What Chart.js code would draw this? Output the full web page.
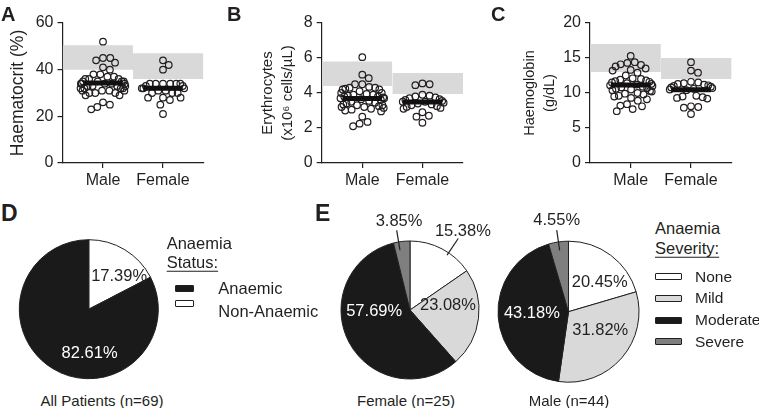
<!DOCTYPE html>
<html>
<head>
<meta charset="utf-8">
<script src="https://cdn.jsdelivr.net/npm/chart.js@4.4.1/dist/chart.umd.min.js"></script>
<style>
  body { margin: 0; background: #fff; }
  #fig { position: relative; width: 759px; height: 408px; overflow: hidden;
         font-family: "Liberation Sans", Arial, Helvetica, sans-serif; color: #231f20; }
  canvas { position: absolute; }
  .t { position: absolute; white-space: nowrap; line-height: 1; transform: translateY(-50%); }
  .mid { transform: translate(-50%, -50%); }
  .letter { font-weight: bold; }
  .box { position: absolute; border: 1px solid #231f20; border-radius: 1px; box-sizing: border-box; }
</style>
</head>
<body>
<div id="fig">
  <canvas id="hct" width="215" height="195" style="left:0;top:0"></canvas>
  <canvas id="rbc" width="230" height="195" style="left:245px;top:0"></canvas>
  <canvas id="hb" width="240" height="195" style="left:505px;top:0"></canvas>
  <canvas id="pieAll" width="160" height="160" style="left:10px;top:230px"></canvas>
  <canvas id="pieFemale" width="170" height="190" style="left:330px;top:200px"></canvas>
  <canvas id="pieMale" width="150" height="190" style="left:495px;top:200px"></canvas>

  <div class="t letter" style="left:1px;top:14px;font-size:20px">A</div>
  <div class="t letter" style="left:227px;top:14px;font-size:20px">B</div>
  <div class="t letter" style="left:491px;top:14px;font-size:20px">C</div>
  <div class="t letter" style="left:1px;top:213px;font-size:23px">D</div>
  <div class="t letter" style="left:315px;top:213px;font-size:23px">E</div>

  <div class="t mid" style="left:102px;top:400px;font-size:15px">All Patients (n=69)</div>
  <div class="t mid" style="left:406px;top:400px;font-size:15px">Female (n=25)</div>
  <div class="t mid" style="left:569px;top:400px;font-size:15px">Male (n=44)</div>

  <div id="legendAll"></div>
  <div id="legendSeverity"></div>
</div>

<script>
// ---- data ----
const groups = ["Male", "Female"];

const hctMale = [52, 45, 45, 44, 43, 41, 40, 38, 38, 37, 37, 36, 36, 36, 35, 35, 35, 35,
  34, 34, 34, 34, 34, 33, 33, 33, 33, 32, 32, 32, 32, 31, 31, 31, 31, 30, 30, 30, 29, 29,
  26, 25, 24, 23];
const hctFemale = [44, 42, 40, 34, 34, 34, 34, 34, 34, 33, 33, 32, 32, 32, 31, 31, 30, 30,
  30, 28, 28, 28, 27, 25, 21];
const hctNormal = [[40, 50.5], [36, 47]];
const hctTicks = [0, 20, 40, 60];

const rbcMale = [6.05, 5.05, 4.85, 4.5, 4.5, 4.35, 4.3, 4.3, 4.25, 4.2, 4.2, 4.1, 4.0, 4.0,
  3.95, 3.9, 3.9, 3.85, 3.8, 3.8, 3.75, 3.7, 3.7, 3.65, 3.6, 3.55, 3.5, 3.45, 3.4, 3.35,
  3.3, 3.3, 3.25, 3.2, 3.2, 3.15, 3.1, 3.05, 3.0, 2.95, 2.65, 2.35, 2.25, 2.1];
const rbcFemale = [4.55, 4.5, 4.45, 3.9, 3.85, 3.8, 3.75, 3.7, 3.65, 3.6, 3.55, 3.5, 3.5,
  3.45, 3.4, 3.35, 3.3, 3.25, 3.2, 3.15, 3.1, 2.9, 2.7, 2.65, 2.3];
const rbcNormal = [[4.4, 5.8], [3.95, 5.15]];
const rbcTicks = [0, 2, 4, 6, 8];

const hbMale = [15.3, 14.4, 14.3, 14.1, 14.0, 13.8, 13.5, 13.3, 13.2, 12.9, 12.5, 12.1,
  12.0, 11.9, 11.8, 11.7, 11.6, 11.5, 11.4, 11.3, 11.2, 11.1, 11.0, 10.9, 10.8, 10.7, 10.6,
  10.5, 10.4, 10.3, 10.2, 10.0, 9.9, 9.8, 9.6, 9.5, 9.3, 9.1, 8.9, 8.4, 8.2, 8.1, 7.7, 7.4];
const hbFemale = [14.4, 13.2, 12.9, 11.6, 11.5, 11.4, 11.3, 11.2, 11.1, 11.0, 10.9, 10.8,
  10.7, 10.6, 10.5, 10.4, 9.6, 9.5, 9.4, 9.3, 9.2, 8.1, 8.0, 7.9, 7.0];
const hbNormal = [[13, 17], [12, 15]];
const hbTicks = [0, 5, 10, 15, 20];

const anaemiaStatus = ["Anaemic", "Non-Anaemic"];
const allPatientsPct = [82.61, 17.39];

const severityLevels = ["None", "Mild", "Moderate", "Severe"];
const femaleSeverityPct = [15.38, 23.08, 57.69, 3.85];
const maleSeverityPct = [20.45, 31.82, 43.18, 4.55];

// ---- style ----
const INK = "#231f20";
const FONT = "'Liberation Sans', Arial, Helvetica, sans-serif";
const statusColors = { "Anaemic": "#1a1a1a", "Non-Anaemic": "#ffffff" };
const severityColors = { None: "#ffffff", Mild: "#d9d9d9", Moderate: "#1a1a1a", Severe: "#7f7f7f" };
const X_MIN = 0.325, X_MAX = 2.675, PX_PER_X = 60, PLOT_H = 140;

// beeswarm from the top down, then squeeze wide rows so the column stays ~±22px
function swarm(values, centre, pxPerY) {
  const d = 7.5, cap = 23;
  const placed = [];
  values.slice().sort((a, b) => b - a).forEach(v => {
    const y = v * pxPerY;
    const near = placed.filter(p => Math.abs(p.y - y) < d);
    const cands = [0];
    near.forEach(p => {
      const dx = Math.sqrt(d * d - (p.y - y) ** 2);
      cands.push(p.x + dx, p.x - dx);
    });
    cands.sort((a, b) => Math.abs(a) - Math.abs(b) || b - a);
    const x = cands.find(c => near.every(p => (p.x - c) ** 2 + (p.y - y) ** 2 >= d * d - 1e-6));
    placed.push({ x, y, v });
  });
  return placed.map(p => ({ x: centre + cap * Math.tanh(p.x / cap) / PX_PER_X, y: p.v }));
}

const mean = arr => arr.reduce((s, v) => s + v, 0) / arr.length;

function scatterPanel(id, cfg) {
  const yMax = cfg.ticks[cfg.ticks.length - 1];
  const pxPerY = PLOT_H / yMax;
  const datasets = [];
  groups.forEach((g, i) => {
    const c = i + 1;
    const lo = i === 0 ? X_MIN : 1.5;
    const hi = i === 0 ? 1.5 : X_MAX;
    datasets.push({
      type: "line",
      data: [{ x: lo, y: cfg.normal[i][1] }, { x: hi, y: cfg.normal[i][1] }],
      fill: { value: cfg.normal[i][0] },
      backgroundColor: "#d9d9d9",
      borderWidth: 0,
      pointRadius: 0,
      order: 3,
    });
    datasets.push({
      data: swarm(cfg.values[i], c, pxPerY),
      pointRadius: 3.3,
      pointBorderWidth: 1.2,
      pointBorderColor: INK,
      pointBackgroundColor: "rgba(255,255,255,0)",
      order: 2,
    });
    const m = mean(cfg.values[i]);
    datasets.push({
      type: "line",
      data: [{ x: c - 0.33, y: m }, { x: c + 0.33, y: m }],
      borderColor: "#111",
      borderWidth: 5,
      borderCapStyle: "butt",
      pointRadius: 0,
      fill: false,
      order: 1,
    });
  });

  const axisFont = { family: FONT, size: 16 };
  return new Chart(document.getElementById(id), {
    type: "scatter",
    data: { datasets },
    options: {
      responsive: false,
      animation: false,
      layout: { padding: { left: 0, top: 23, right: cfg.padRight, bottom: 0 } },
      plugins: { legend: { display: false }, tooltip: { enabled: false } },
      scales: {
        x: {
          type: "linear",
          min: X_MIN,
          max: X_MAX,
          afterBuildTicks: s => { s.ticks = groups.map((g, i) => ({ value: i + 1 })); },
          afterFit: s => { s.height = 32; },
          ticks: { callback: v => groups[v - 1], color: INK, font: axisFont, padding: 3, maxRotation: 0 },
          grid: { drawOnChartArea: false, tickLength: 5, color: INK, lineWidth: 1.2 },
          border: { color: INK, width: 1.2 },
        },
        y: {
          min: 0,
          max: yMax,
          afterBuildTicks: s => { s.ticks = cfg.ticks.map(v => ({ value: v })); },
          afterFit: s => { s.width = cfg.yWidth; },
          ticks: { color: INK, font: axisFont, padding: 4 },
          grid: { drawOnChartArea: false, tickLength: 5, color: INK, lineWidth: 1.2 },
          border: { color: INK, width: 1.2 },
          title: {
            display: true,
            text: cfg.title,
            color: INK,
            font: { family: FONT, size: cfg.titleSize, lineHeight: cfg.titleLine },
            padding: { top: cfg.titlePad, bottom: 0 },
          },
        },
      },
    },
  });
}

scatterPanel("hct", {
  values: [hctMale, hctFemale], normal: hctNormal, ticks: hctTicks,
  title: "Haematocrit (%)", titleSize: 17.5, titleLine: 1.2, titlePad: 7.5,
  yWidth: 62.5, padRight: 11.5,
});
scatterPanel("rbc", {
  values: [rbcMale, rbcFemale], normal: rbcNormal, ticks: rbcTicks,
  title: ["Erythrocytes", "(x10\u2076 cells/\u00b5L)"], titleSize: 15, titleLine: 20 / 15, titlePad: 13.3,
  yWidth: 76.7, padRight: 12,
});
scatterPanel("hb", {
  values: [hbMale, hbFemale], normal: hbNormal, ticks: hbTicks,
  title: ["Haemoglobin", "(g/dL)"], titleSize: 14.5, titleLine: 20 / 14.5, titlePad: 15,
  yWidth: 85, padRight: 13.3,
});

// ---- pies ----
// label anchors: [angle clockwise from 12 o'clock, fraction of radius], optional leader line
const pieLabelPlacement = {
  all: {
    "Non-Anaemic": { at: [43, 0.64] },
    "Anaemic": { at: [179, 0.64] },
  },
  female: {
    None: { at: [34, 1.37], leader: [34, 0.96, 1.25] },
    Mild: { at: [82.5, 0.555] },
    Moderate: { at: [267, 0.52] },
    Severe: { at: [-7, 1.3], leader: [-9.5, 0.88, 1.17] },
  },
  male: {
    None: { at: [46.5, 0.61] },
    Mild: { at: [120, 0.52] },
    Moderate: { at: [267.5, 0.52] },
    Severe: { at: [-7.4, 1.3], leader: [-8.2, 0.88, 1.17] },
  },
};

const pieLabels = {
  id: "pieLabels",
  afterDatasetsDraw(chart, args, opts) {
    const ctx = chart.ctx;
    const ds = chart.data.datasets[0];
    chart.getDatasetMeta(0).data.forEach((arc, i) => {
      const name = chart.data.labels[i];
      const p = opts.place[name];
      const r = arc.outerRadius;
      const pt = (deg, f) => {
        const a = deg * Math.PI / 180;
        return [arc.x + Math.sin(a) * r * f, arc.y - Math.cos(a) * r * f];
      };
      ctx.save();
      if (p.leader) {
        const [a, f1, f2] = p.leader;
        const s = pt(a, f1), e = pt(a, f2);
        ctx.strokeStyle = INK;
        ctx.lineWidth = 1.2;
        ctx.beginPath();
        ctx.moveTo(s[0], s[1]);
        ctx.lineTo(e[0], e[1]);
        ctx.stroke();
      }
      const [x, y] = pt(p.at[0], p.at[1]);
      ctx.font = "16.5px " + FONT;
      ctx.textAlign = "center";
      ctx.textBaseline = "middle";
      const dark = ds.backgroundColor[i] === "#1a1a1a" && !p.leader;
      ctx.fillStyle = dark ? "#ffffff" : INK;
      ctx.fillText(ds.data[i].toFixed(2) + "%", x, y);
      ctx.restore();
    });
  },
};

function piePanel(id, labels, values, colors, place, pad) {
  return new Chart(document.getElementById(id), {
    type: "pie",
    data: {
      labels,
      datasets: [{
        data: values,
        backgroundColor: labels.map(l => colors[l]),
        borderColor: INK,
        borderWidth: 1,
      }],
    },
    options: {
      responsive: false,
      animation: false,
      layout: { padding: pad },
      plugins: { legend: { display: false }, tooltip: { enabled: false }, pieLabels: { place } },
    },
    plugins: [pieLabels],
  });
}

// the reference draws the non-anaemic slice first, clockwise from 12 o'clock
piePanel("pieAll", anaemiaStatus.slice().reverse(), allPatientsPct.slice().reverse(),
  statusColors, pieLabelPlacement.all, { left: 8.8, top: 9.2, right: 11.2, bottom: 10.8 });
piePanel("pieFemale", severityLevels, femaleSeverityPct, severityColors,
  pieLabelPlacement.female, { left: 10.5, top: 40.5, right: 20.5, bottom: 10.5 });
piePanel("pieMale", severityLevels, maleSeverityPct, severityColors,
  pieLabelPlacement.male, { left: 2.5, top: 40.7, right: 5.5, bottom: 7.3 });

// ---- legends (html) ----
function legend(el, titleLines, names, colors, lay) {
  let html = "";
  titleLines.forEach((line, i) => {
    const u = i === titleLines.length - 1 ? "text-decoration:underline;text-underline-offset:3px;" : "";
    html += `<div class="t" style="left:${lay.x}px;top:${lay.titleY + i * lay.titleGap}px;font-size:${lay.titleSize}px;${u}">${line}</div>`;
  });
  names.forEach((n, i) => {
    const y = lay.itemY + i * lay.itemGap;
    const by = y + (lay.boxShift ? lay.boxShift[i] : 0);
    html += `<div class="box" style="left:${lay.boxX}px;top:${by - lay.boxH / 2}px;width:${lay.boxW}px;height:${lay.boxH}px;background:${colors[n]}"></div>`;
    html += `<div class="t" style="left:${lay.textX}px;top:${y}px;font-size:${lay.itemSize}px">${n}</div>`;
  });
  document.getElementById(el).innerHTML = html;
}

legend("legendAll", ["Anaemia", "Status:"], anaemiaStatus, statusColors, {
  x: 166.7, titleY: 243.3, titleGap: 18.4, titleSize: 16.5,
  boxX: 175, boxW: 19, boxH: 7, textX: 218.3, itemY: 288.3, itemGap: 22.5, itemSize: 16.5,
  boxShift: [0, -7],
});
legend("legendSeverity", ["Anaemia", "Severity:"], severityLevels, severityColors, {
  x: 655, titleY: 228.3, titleGap: 20, titleSize: 16.5,
  boxX: 655, boxW: 27, boxH: 7, textX: 695, itemY: 276.7, itemGap: 21.7, itemSize: 15.5,
});
</script>
</body>
</html>
